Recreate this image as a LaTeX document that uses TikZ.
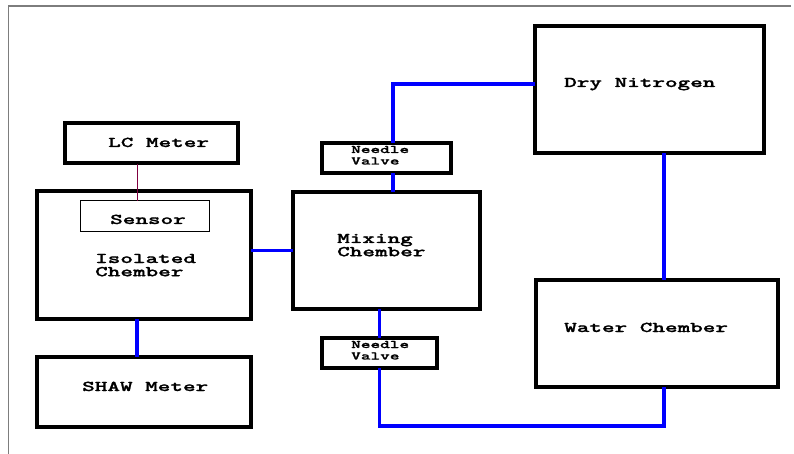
\documentclass[tikz,border=0pt]{standalone}
\usepackage{graphicx}
\usepackage{fontspec}
\usetikzlibrary{calc}

\newfontfamily\unitfont{lmmonolt10-bold.otf}[FakeBold=1]

\definecolor{pipeblue}{RGB}{0,0,255}
\definecolor{wirered}{RGB}{128,0,64}
\definecolor{framegray}{RGB}{125,125,125}

% wide typewriter text, one or more lines, baseline on the first line
\newcommand{\boxtext}[1]{\scalebox{1.6}[1]{\begin{tabular}[t]{@{}l@{}}#1\end{tabular}}}

\tikzset{
  unit/.style={draw, line width=3.5pt, inner sep=0pt},
  pipe/.style={draw=pipeblue, line width=3.5pt},
  txt/.style={inner sep=0pt, anchor=base west,
    font=\unitfont\fontsize{15}{13}\selectfont},
  smalltxt/.style={txt, font=\unitfont\fontsize{11.5}{11.5}\selectfont}
}

\begin{document}
\begin{tikzpicture}[x=1pt,y=-1pt,line cap=rect,line join=miter]
\useasboundingbox (0,0) rectangle (794,454);

% --- frame ---
\draw[framegray, line width=1.5pt] (8.5,454) -- (8.5,6) -- (790,6);

% --- units ---
\node[unit, minimum width=173, minimum height=40]  (lc)     at (151.5,143)  {};
\node[unit, minimum width=214, minimum height=128] (iso)    at (144,255)    {};
\node[draw, line width=1pt, inner sep=0pt, minimum width=129, minimum height=30]
                                                    (sensor) at (144.5,216)  {};
\node[unit, minimum width=214, minimum height=70]  (shaw)   at (144,392)    {};
\node[unit, minimum width=187, minimum height=117] (mix)    at (386.5,250.5) {};
\node[unit, minimum width=129, minimum height=30]  (nvtop)  at (386.5,158)  {};
\node[unit, minimum width=115, minimum height=30]  (nvbot)  at (379.5,353)  {};
\node[unit, minimum width=229, minimum height=127] (dry)    at (649.5,89.5) {};
\node[unit, minimum width=242, minimum height=107] (water)  at (657,333.5)  {};

% --- labels ---
\node[txt] (lctxt)     at (108,147) {\boxtext{LC Meter}};
\node[txt] (sensortxt) at (110,224) {\boxtext{Sensor}};
\node[txt] (isotxt)    at (95,263)  {\boxtext{Isolated\\Chember}};
\node[txt] (shawtxt)   at (82,391)  {\boxtext{SHAW Meter}};
\node[txt] (mixtxt)    at (337,243) {\boxtext{Mixing\\Chember}};
\node[txt] (drytxt)    at (564,87)  {\boxtext{Dry Nitrogen}};
\node[txt] (watertxt)  at (564,332) {\boxtext{Water Chember}};
\node[smalltxt] (nvtoptxt) at (351,153) {\boxtext{Needle\\Valve}};
\node[smalltxt] (nvbottxt) at (351,348) {\boxtext{Needle\\Valve}};

% --- bends of the lines ---
\coordinate (tap)  at (137,0);
\coordinate (topx) at (393,84);
\coordinate (rx)   at (664,426);

% --- sensor wire ---
\draw[wirered, line width=1pt] (lc.south -| tap) -- (sensor.north -| tap);

% --- gas lines ---
\draw[pipe] (iso.south -| tap) -- (shaw.north -| tap);
\draw[pipe] (iso.east |- mix.west) -- (mix.west);
\draw[pipe] (mix.north -| topx) -- (nvtop.south -| topx);
\draw[pipe] (nvtop.north -| topx) -- (topx) -- (dry.west |- topx);
\draw[pipe] (dry.south -| rx) -- (water.north -| rx);
\draw[pipe] (water.south -| rx) -- (rx) -| (nvbot.south);
\draw[pipe] (mix.south -| nvbot.north) -- (nvbot.north);
\end{tikzpicture}
\end{document}
